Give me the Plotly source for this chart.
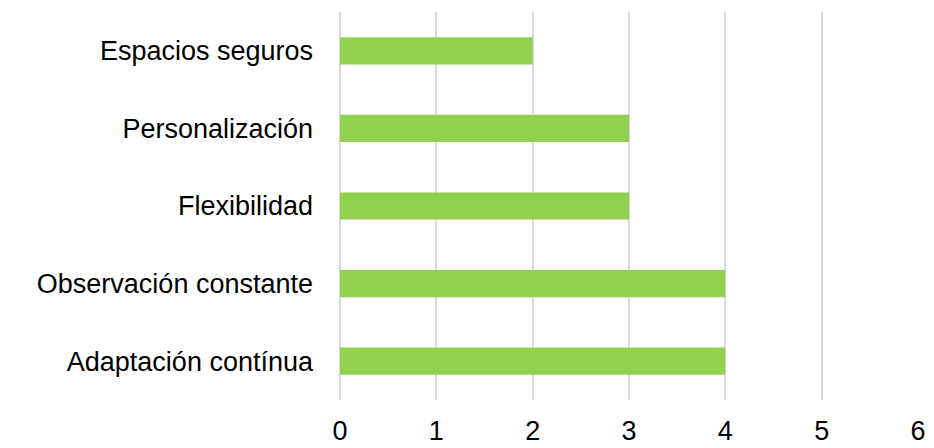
import plotly.graph_objects as go

categories = ["Adaptación contínua", "Observación constante", "Flexibilidad", "Personalización", "Espacios seguros"]
values = [4, 4, 3, 3, 2]
x_ticks = [0, 1, 2, 3, 4, 5, 6]

fig = go.Figure(go.Bar(
    x=values, y=categories, orientation="h",
    marker=dict(color="#92D050", line=dict(width=0)),
    width=0.35,
))
fig.update_layout(
    width=934, height=448,
    margin=dict(l=340, r=16, t=12, b=48, autoexpand=False),
    paper_bgcolor="white", plot_bgcolor="white",
    font=dict(family="Liberation Sans, Arial, sans-serif", color="#000000"),
    showlegend=False,
    xaxis=dict(range=[0, 6], tickvals=x_ticks, showgrid=True, gridcolor="#D9D9D9", gridwidth=2,
               zeroline=True, zerolinecolor="#D9D9D9", zerolinewidth=2, showline=False,
               tickfont=dict(size=27), ticklabelstandoff=12),
    yaxis=dict(showgrid=False, zeroline=False, showline=False, tickfont=dict(size=27),
               ticklabelstandoff=26, categoryorder="array", categoryarray=categories),
)
fig.write_html("out.html", config={"displayModeBar": False},
               post_script="document.body.style.margin='0';")
